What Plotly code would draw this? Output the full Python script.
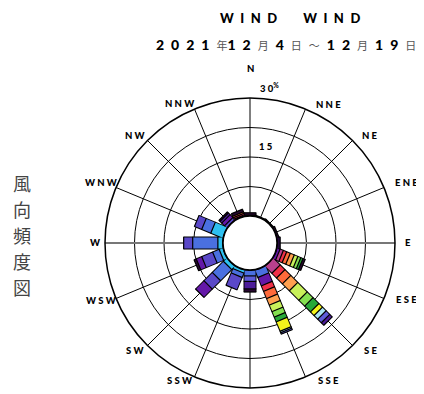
import plotly.graph_objects as go

# 16 compass directions (clockwise from north)
directions = ["N", "NNE", "NE", "ENE", "E", "ESE", "SE", "SSE",
              "S", "SSW", "SW", "WSW", "W", "WNW", "NW", "NNW"]

# one series per day (12/4 .. 12/19): frequency (%) per direction, N..NNW
days = ["12/4", "12/5", "12/6", "12/7", "12/8", "12/9", "12/10", "12/11",
        "12/12", "12/13", "12/14", "12/15", "12/16", "12/17", "12/18", "12/19"]
day_colors = ["#2ec0f0", "#4a70e0", "#5a48c8", "#6418a8", "#b8408c", "#f03048",
              "#ff6a3a", "#ffa050", "#c8f05a", "#84e050", "#28a838", "#f4f41c",
              "#a8e4f4", "#5c5cd8", "#4c1c98", "#280830"]

d04 = [0, 0, 0, 0, 0, 0, 0, 0, 0, 0.8, 1.2, 1.0, 1.3, 3.3, 0, 0]
d05 = [0, 0, 0, 0, 0, 0, 0, 2.0, 1.5, 1.2, 4.0, 1.8, 6.4, 2.5, 0, 0]
d06 = [0, 0, 0, 0, 0, 0, 0, 0, 0, 3.4, 3.0, 3.0, 2.3, 2.0, 0.8, 0]
d07 = [0, 0, 0, 0, 0.5, 0.8, 0, 2.3, 0, 0, 3.0, 1.5, 0, 0, 1.0, 0]
d08 = [0, 0, 0, 0, 0, 0.9, 2.5, 0, 0, 0, 0, 0, 0, 0, 0, 0.3]
d09 = [0.2, 0, 0, 0, 0, 0.9, 1.7, 1.5, 0, 0, 0, 0, 0, 0, 0, 0.4]
d10 = [0, 0, 0, 0, 0, 1.0, 2.1, 2.0, 0, 0, 0, 0, 0, 0, 0, 0.4]
d11 = [0, 0, 0, 0, 0, 1.1, 2.5, 1.8, 0, 0, 0, 0, 0, 0, 0, 0]
d12 = [0, 0, 0, 0, 0, 1.0, 3.4, 1.8, 0, 0, 0, 0, 0, 0, 0, 0]
d13 = [0, 0, 0, 0, 0, 0.8, 2.1, 1.5, 0, 0, 0, 0, 0, 0, 0, 0]
d14 = [0, 0, 0, 0, 0, 0.6, 2.1, 1.3, 0, 0, 0, 0, 0, 0, 0, 0]
d15 = [0, 0, 0, 0, 0, 0, 1.3, 2.6, 0, 0, 0, 0, 0, 0, 0, 0]
d16 = [0, 0, 0, 0, 0, 0, 1.3, 0.4, 0, 0, 0, 0, 0, 0, 0, 0]
d17 = [0, 0, 0, 0, 0, 0, 1.3, 0.4, 1.4, 0, 0, 0, 0, 0, 0, 0]
d18 = [0, 0, 0, 0, 0.3, 0, 0.9, 0, 1.9, 0, 0, 0, 0, 0, 0.6, 0]
d19 = [0.6, 0.2, 0.25, 0.5, 0, 0.6, 0, 0, 0.8, 0, 0, 0.6, 0, 0, 0.4, 0.7]
series = [d04, d05, d06, d07, d08, d09, d10, d11,
          d12, d13, d14, d15, d16, d17, d18, d19]

radial_ticks = [7.5, 15, 22.5]
r_max = 30

angles = [i * 360 / len(directions) for i in range(len(directions))]
totals = [sum(s[i] for s in series) for i in range(len(directions))]

W, H = 424, 394
OFF = 8  # page body margin


def xp(px):
    return (px - OFF) / W


def yp(py):
    return 1 - (py - OFF) / H


fig = go.Figure()

# E-W axis line (grey)
fig.add_trace(go.Scatterpolar(r=[0, r_max, None, 0, r_max], theta=[90, 90, None, 270, 270],
                              mode="lines", line=dict(color="#777777", width=2),
                              hoverinfo="skip", showlegend=False))

# black outline under each stacked bar
ro, to = [], []
for a, t in zip(angles, totals):
    if t > 0:
        ro += [0, t, None]
        to += [a, a, None]
fig.add_trace(go.Scatterpolar(r=ro, theta=to, mode="lines",
                              line=dict(color="black", width=13),
                              hoverinfo="skip", showlegend=False))

# stacked day segments
cum = [0.0] * len(directions)
br, bt, ba = [], [], []
for day, col, vals in zip(days, day_colors, series):
    rr, tt = [], []
    for i, v in enumerate(vals):
        if v > 0:
            rr += [cum[i], cum[i] + v, None]
            tt += [angles[i], angles[i], None]
            cum[i] += v
            br.append(cum[i]); bt.append(angles[i]); ba.append(angles[i])
    if rr:
        fig.add_trace(go.Scatterpolar(r=rr, theta=tt, mode="lines", name=day,
                                      line=dict(color=col, width=11),
                                      showlegend=False))

# segment separators
fig.add_trace(go.Scatterpolar(r=br, theta=bt, mode="markers",
                              marker=dict(symbol="line-ew", size=9, angle=ba,
                                          line=dict(color="black", width=1.2)),
                              hoverinfo="skip", showlegend=False))

# calm circle edge
circ = list(range(0, 361, 3))
fig.add_trace(go.Scatterpolar(r=[0] * len(circ), theta=circ, mode="lines",
                              line=dict(color="black", width=2),
                              hoverinfo="skip", showlegend=False))

heavy = "Lato, Roboto, DejaVu Sans, sans-serif"
label_font = dict(family=heavy, size=9.5, color="black", weight=900)

fig.update_layout(
    width=W, height=H,
    margin=dict(l=0, r=0, t=0, b=0),
    paper_bgcolor="white",
    showlegend=False,
    polar=dict(
        domain=dict(x=[xp(105), xp(395)], y=[yp(388), yp(98)]),
        bgcolor="white",
        hole=27 / 145,
        radialaxis=dict(range=[0, r_max], tickvals=radial_ticks, showticklabels=False,
                        ticks="", showline=False, gridcolor="black", gridwidth=1),
        angularaxis=dict(direction="clockwise", rotation=90,
                         tickvals=angles, showticklabels=False, ticks="",
                         showline=True, linecolor="black", linewidth=1.5,
                         gridcolor="black", gridwidth=1),
    ),
)

# compass labels (page positions of label centres; S lies below the visible page)
label_centres = {"N": (250, 69), "NNE": (328.5, 104), "NE": (370, 136),
                 "ENE": (406, 182.5), "E": (408, 243), "ESE": (406, 299),
                 "SE": (370.5, 350), "SSE": (328.5, 380),
                 "SSW": (179.5, 380), "SW": (135.5, 350), "WSW": (100.5, 300),
                 "W": (94.5, 243), "WNW": (100.5, 182), "NW": (135.5, 135),
                 "NNW": (179.5, 103.5)}
for d in directions:
    if d not in label_centres:
        continue
    cx, cy = label_centres[d]
    fig.add_annotation(x=xp(cx), y=yp(cy), xref="paper", yref="paper",
                       xanchor="center", yanchor="middle", showarrow=False,
                       text=" ".join(d), font=label_font)

sp = "\u2002"
num = f"font-family:{heavy};font-weight:900;font-size:14px;color:black"
kan = "font-family:Noto Sans CJK JP;color:#555;font-size:11px"


def digits(s):
    return f"<span style='{num}'>" + sp.join(s) + "</span>"


def kj(s):
    return f"<span style='{kan}'>{s}</span>"


line2 = sp.join([digits("2021"), kj("年") + digits("12"), kj("月") + sp + digits("4"),
                 kj("日"), kj("～"), digits("12"), kj("月") + sp + digits("19"), kj("日")])

fig.add_annotation(x=xp(290), y=yp(18), xref="paper", yref="paper",
                   xanchor="center", yanchor="middle",
                   text=sp.join("WIND") + sp * 4 + sp.join("WIND"),
                   showarrow=False, font=dict(family=heavy, size=13, color="black", weight=900))
fig.add_annotation(x=xp(286), y=yp(44), xref="paper", yref="paper",
                   xanchor="center", yanchor="middle",
                   text=line2, showarrow=False, font=dict(size=14, color="black"))
for k, ch in enumerate("風向頻度図"):
    fig.add_annotation(x=xp(22), y=yp(183 + 26 * k), xref="paper", yref="paper",
                       xanchor="center", yanchor="middle",
                       text=ch, showarrow=False,
                       font=dict(family="Noto Sans CJK JP", size=18, color="#444444"))
fig.add_annotation(x=xp(269), y=yp(87), xref="paper", yref="paper",
                   xanchor="center", yanchor="middle",
                   text="3 0<sup>%</sup>", showarrow=False, font=label_font)
fig.add_annotation(x=xp(266), y=yp(146), xref="paper", yref="paper",
                   xanchor="center", yanchor="middle",
                   text="1 5", showarrow=False, font=label_font)

fig.write_html("out.html")
